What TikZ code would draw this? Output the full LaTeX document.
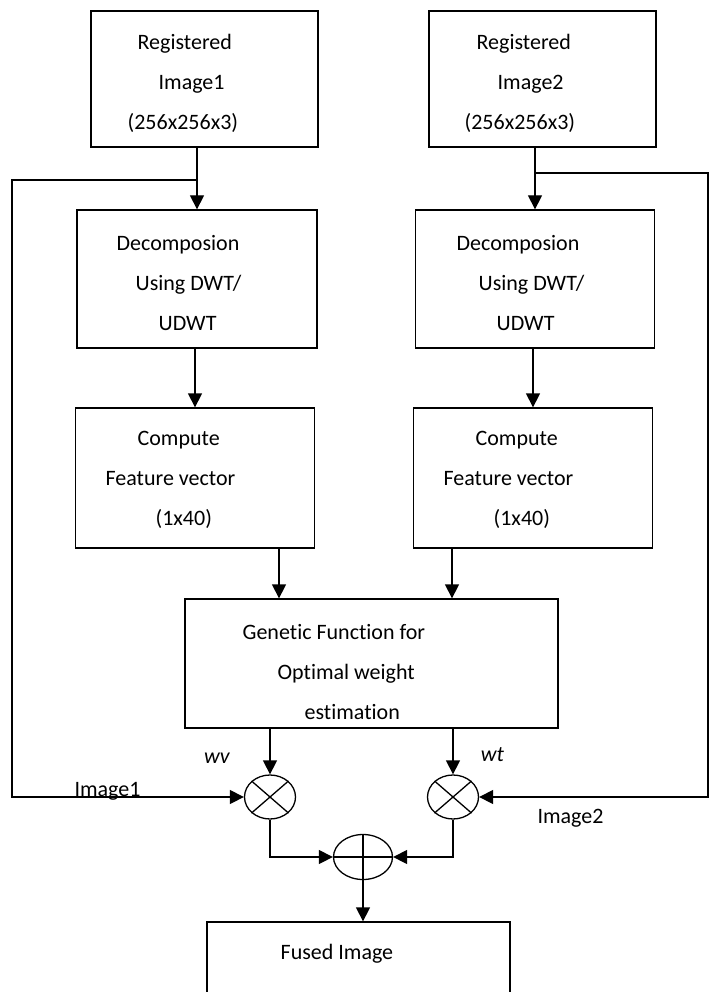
\documentclass[tikz,border=0pt]{standalone}
\usepackage{fontspec}
\setmainfont{Carlito}[Ligatures=NoCommon]
\usetikzlibrary{positioning}
\usetikzlibrary{arrows.meta}
\usetikzlibrary{shapes.geometric}

\begin{document}
\begin{tikzpicture}[x=1pt,y=-1pt,
    line width=1.3pt,
    font=\fontsize{22}{40}\selectfont,
    block/.style={draw, inner sep=0pt},
    txt/.style={align=left, inner sep=0pt, anchor=west},
    flow/.style={-{Triangle[length=14pt,width=14pt]}},
    mult/.style={draw, ellipse, inner sep=0pt, minimum width=51pt, minimum height=44pt},
    summ/.style={draw, ellipse, inner sep=0pt, minimum width=59pt, minimum height=45pt}]
 \clip (0,0) rectangle (709,992);

 % Registered images
 \node[block, minimum width=227pt, minimum height=136pt] (img1) at (204.5,79) {};
 \node[txt] (img1txt) at (127,83) {\hspace*{10pt}Registered\\\hspace*{31pt}Image1\\(256x256x3)};
 \node[block, minimum width=227pt, minimum height=136pt] (img2) at (542.5,79) {};
 \node[txt] (img2txt) at (464,83) {\hspace*{12pt}Registered\\\hspace*{33pt}Image2\\(256x256x3)};

 % Decomposition
 \node[block, minimum width=240pt, minimum height=138pt] (dec1) at (197,279) {};
 \node[txt] (dec1txt) at (116,283) {Decomposion\\\hspace*{19pt}Using DWT/\\\hspace*{42pt}UDWT};
 \node[block, minimum width=239pt, minimum height=138pt] (dec2) at (535,279) {};
 \node[txt] (dec2txt) at (456,283) {Decomposion\\\hspace*{22pt}Using DWT/\\\hspace*{40pt}UDWT};

 % Feature vectors
 \node[block, minimum width=239pt, minimum height=140pt] (comp1) at (195,478) {};
 \node[txt] (comp1txt) at (105,480) {\hspace*{32pt}Compute\\Feature vector\\\hspace*{50pt}(1x40)};
 \node[block, minimum width=239pt, minimum height=140pt] (comp2) at (533,478) {};
 \node[txt] (comp2txt) at (443,480) {\hspace*{32pt}Compute\\Feature vector\\\hspace*{50pt}(1x40)};

 % Genetic weight estimation
 \node[block, minimum width=373pt, minimum height=129pt] (gen) at (371.5,663.5) {};
 \node[txt] (gentxt) at (242,672) {Genetic Function for\\\hspace*{35pt}Optimal weight\\\hspace*{62pt}estimation};
 \coordinate (gin1) at ([xshift=-92.5pt]gen.north);
 \coordinate (gin2) at ([xshift=80.5pt]gen.north);

 % Multipliers and adder
 \node[mult] (cross1) at (270,797) {};
 \node[mult] (cross2) at (453,797) {};
 \node[summ] (plus) at (363,857) {};
 \draw (cross1.north west) -- (cross1.south east) (cross1.north east) -- (cross1.south west);
 \draw (cross2.north west) -- (cross2.south east) (cross2.north east) -- (cross2.south west);
 \draw (plus.north) -- (plus.south) (plus.west) -- (plus.east);

 % Output
 \node[block, minimum width=303pt, minimum height=110pt] (fused) at (358.5,977) {};
 \node[txt] (fusedtxt) at (280,954) {Fused Image};

 % Arrows
 \draw[flow] (img1.south -| dec1.north) -- (dec1.north);
 \draw[flow] (img2.south -| dec2.north) -- (dec2.north);
 \draw[flow] (dec1.south -| comp1.north) -- (comp1.north);
 \draw[flow] (dec2.south -| comp2.north) -- (comp2.north);
 \draw[flow] (comp1.south -| gin1) -- (gin1);
 \draw[flow] (comp2.south -| gin2) -- (gin2);
 \draw[flow] (gen.south -| cross1.north) -- (cross1.north);
 \draw[flow] (gen.south -| cross2.north) -- (cross2.north);
 \draw[flow] (cross1.south) |- (plus.west);
 \draw[flow] (cross2.south) |- (plus.east);
 \draw[flow] (plus.south) -- (plus.south |- fused.north);

 % Image bypass lines
 \coordinate (leftx) at (12,180);
 \coordinate (tap1) at (dec1.north |- leftx);
 \draw[flow] (tap1) -- (leftx) |- (cross1.west);
 \coordinate (rightx) at (708,173);
 \coordinate (tap2) at (dec2.north |- rightx);
 \draw[flow] (tap2) -- (rightx) |- (cross2.east);

 % Labels
 \node (wvlab) at (217,758) {\itshape wv};
 \node (wtlab) at (492.5,755) {\itshape wt};
 \node[anchor=base] (im1lab) at (107.5,796) {Image1};
 \node[anchor=base] (im2lab) at (570.5,823) {Image2};

\end{tikzpicture}
\end{document}
